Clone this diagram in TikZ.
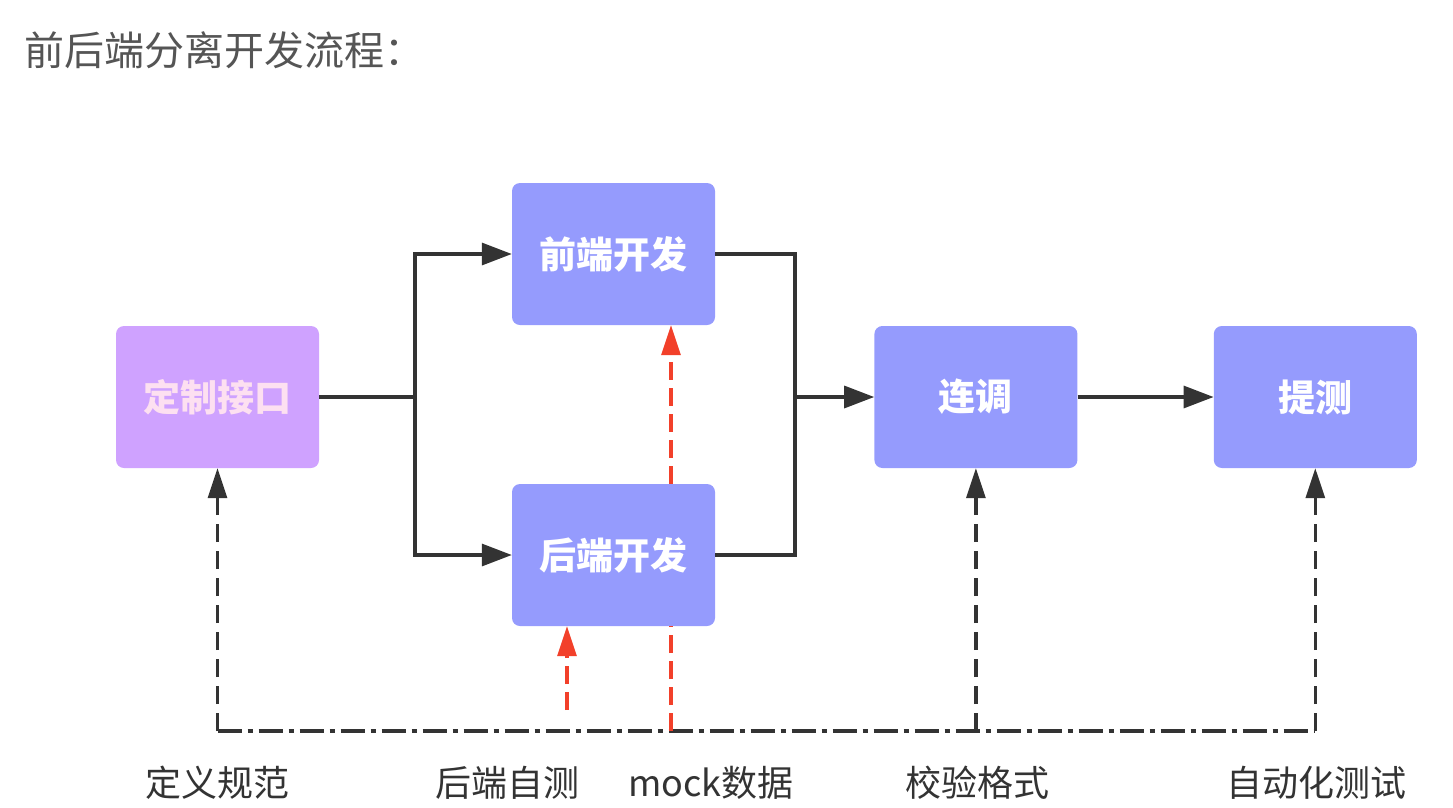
\documentclass[tikz,border=0pt]{standalone}
\usepackage{fontspec}
\setmainfont{Noto Sans CJK SC}
\usetikzlibrary{arrows.meta,positioning}

\definecolor{specpurple}{HTML}{CFA2FF}
\definecolor{devblue}{HTML}{959BFD}
\definecolor{flowgray}{HTML}{333333}
\definecolor{titlegray}{HTML}{555555}
\definecolor{mockred}{HTML}{F2402A}

\tikzset{
  stage/.style={rounded corners=8pt, minimum width=203pt, minimum height=142pt,
    inner sep=0pt, fill=devblue, text=white, font=\fontsize{37}{42}\selectfont\bfseries},
  joinline/.style={draw=flowgray, line width=3.2pt},
  flow/.style={joinline, -{Triangle[length=30pt,width=22pt]}},
  checkline/.style={draw=flowgray, line width=3.2pt, dash pattern=on 18pt off 9pt,
    -{Triangle[length=30pt,width=19pt]}},
  mockline/.style={draw=mockred, line width=3.2pt, dash pattern=on 18pt off 8pt},
  mockflow/.style={mockline, -{Triangle[length=30pt,width=19pt]}},
  baseline/.style={draw=flowgray, line width=4pt, dash pattern=on 24pt off 6pt on 5pt off 6pt},
  caption/.style={text=flowgray, font=\fontsize{36}{42}\selectfont}
}

\begin{document}
\begin{tikzpicture}[x=1pt, y=-1pt]
  \useasboundingbox (0,0) rectangle (1453,807);

  \node (title) [anchor=west, text=titlegray, font=\fontsize{40}{46}\selectfont] at (21,50) {前后端分离开发流程：};

  % 主流程
  \node (iface) [stage, fill=specpurple, text=white!88!magenta] at (217.5,397) {定制接口};
  \node (fe) [stage] at (613.5,254) {前端开发};
  \node (be) [stage] at (613.5,555) {后端开发};
  \node (debug) [stage, right=555pt of iface] {连调};
  \node (release) [stage, right=136pt of debug] {提测};

  \coordinate (split) at (415,397);
  \coordinate (merge) at (795,397);
  \draw[joinline] (iface) -- (split);
  \draw[flow] (split) |- (fe.west);
  \draw[flow] (split) |- (be.west);
  \draw[joinline] (fe.east) -| (merge);
  \draw[joinline] (be.east) -| (merge);
  \draw[flow] (merge) -- (debug);
  \draw[flow] (debug) -- (release);

  % 底部说明
  \coordinate (base) at (0,731);
  \coordinate (mockx) at (671,0);
  \coordinate (selftest) at (567,710);
  \draw[baseline] (iface |- base) -- (release |- base);
  \draw[checkline] (iface |- base) -- (iface.south);
  \draw[checkline] (debug |- base) -- (debug.south);
  \draw[checkline] (release |- base) -- (release.south);
  \draw[mockline] (mockx |- base) -- (mockx |- be.south);
  \draw[mockflow] (mockx |- be.north) -- (mockx |- fe.south);
  \draw[mockflow] (selftest) -- (selftest |- be.south);

  \node (spec) [caption] at (217,783) {定义规范};
  \node (selfcheck) [caption] at (507,783) {后端自测};
  \node (mockdata) [caption] at (711,783) {mock数据};
  \node (format) [caption] at (977,783) {校验格式};
  \node (autotest) [caption] at (1316,783) {自动化测试};
\end{tikzpicture}
\end{document}
